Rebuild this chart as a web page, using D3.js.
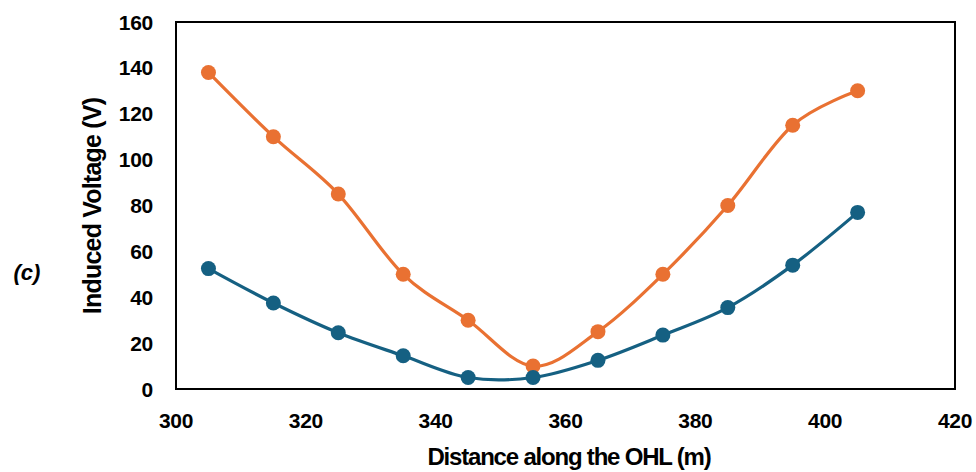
<!DOCTYPE html>
<html>
<head>
<meta charset="utf-8">
<script src="https://cdn.jsdelivr.net/npm/d3@7"></script>
<style>
body { margin: 0; background: #fff; }
svg text { font-family: "Liberation Sans", Arial, sans-serif; font-weight: bold; fill: #000; }
</style>
</head>
<body>
<svg width="976" height="472"></svg>
<script>
// values
var distance = [305, 315, 325, 335, 345, 355, 365, 375, 385, 395, 405];
var upperSeries = [138, 110, 85, 50, 30, 10, 25, 50, 80, 115, 130];
var lowerSeries = [52.5, 37.5, 24.5, 14.5, 5, 5, 12.5, 23.5, 35.5, 54, 77];
var xTicks = [300, 320, 340, 360, 380, 400, 420];
var yTicks = [0, 20, 40, 60, 80, 100, 120, 140, 160];

var svg = d3.select('svg');
var plotL = 176, plotR = 955, plotT = 22, plotB = 389;

var x = d3.scaleLinear().domain([300, 420]).range([plotL, plotR]);
var y = d3.scaleLinear().domain([0, 160]).range([plotB, plotT]);

// frame
svg.append('rect')
	.attr('x', plotL).attr('y', plotT)
	.attr('width', plotR - plotL).attr('height', plotB - plotT)
	.attr('fill', 'none').attr('stroke', '#000').attr('stroke-width', 2);

// y tick labels
svg.append('g').selectAll('text')
	.data(yTicks).enter().append('text')
	.attr('x', 153)
	.attr('y', function(d) { return y(d) + 7.5; })
	.attr('text-anchor', 'end')
	.style('font-size', '21px')
	.style('letter-spacing', '-0.3px')
	.text(function(d) { return d; });

// x tick labels
svg.append('g').selectAll('text')
	.data(xTicks).enter().append('text')
	.attr('x', function(d) { return x(d); })
	.attr('y', 428)
	.attr('text-anchor', 'middle')
	.style('font-size', '21px')
	.style('letter-spacing', '-0.3px')
	.text(function(d) { return d; });

var line = d3.line()
	.x(function(d) { return x(d[0]); })
	.y(function(d) { return y(d[1]); })
	.curve(d3.curveCatmullRom.alpha(0));

var series = [
	{ values: upperSeries, color: '#E97132' },
	{ values: lowerSeries, color: '#156082' }
];

series.forEach(function(s) {
	var pts = distance.map(function(d, i) { return [d, s.values[i]]; });
	svg.append('path')
		.attr('d', line(pts))
		.attr('fill', 'none')
		.attr('stroke', s.color)
		.attr('stroke-width', 3.2);
	svg.append('g').selectAll('circle')
		.data(pts).enter().append('circle')
		.attr('cx', function(d) { return x(d[0]); })
		.attr('cy', function(d) { return y(d[1]); })
		.attr('r', 7.5)
		.attr('fill', s.color);
});

// axis titles
svg.append('text')
	.attr('x', 569).attr('y', 465)
	.attr('text-anchor', 'middle')
	.style('font-size', '24px')
	.style('letter-spacing', '-1.2px')
	.text('Distance along the OHL (m)');

svg.append('text')
	.attr('transform', 'translate(101,206) rotate(-90)')
	.attr('text-anchor', 'middle')
	.style('font-size', '25px')
	.style('letter-spacing', '-0.8px')
	.text('Induced Voltage (V)');

svg.append('text')
	.attr('x', 27).attr('y', 280)
	.attr('text-anchor', 'middle')
	.style('font-size', '22px')
	.style('font-style', 'italic')
	.text('(c)');
</script>
</body>
</html>
